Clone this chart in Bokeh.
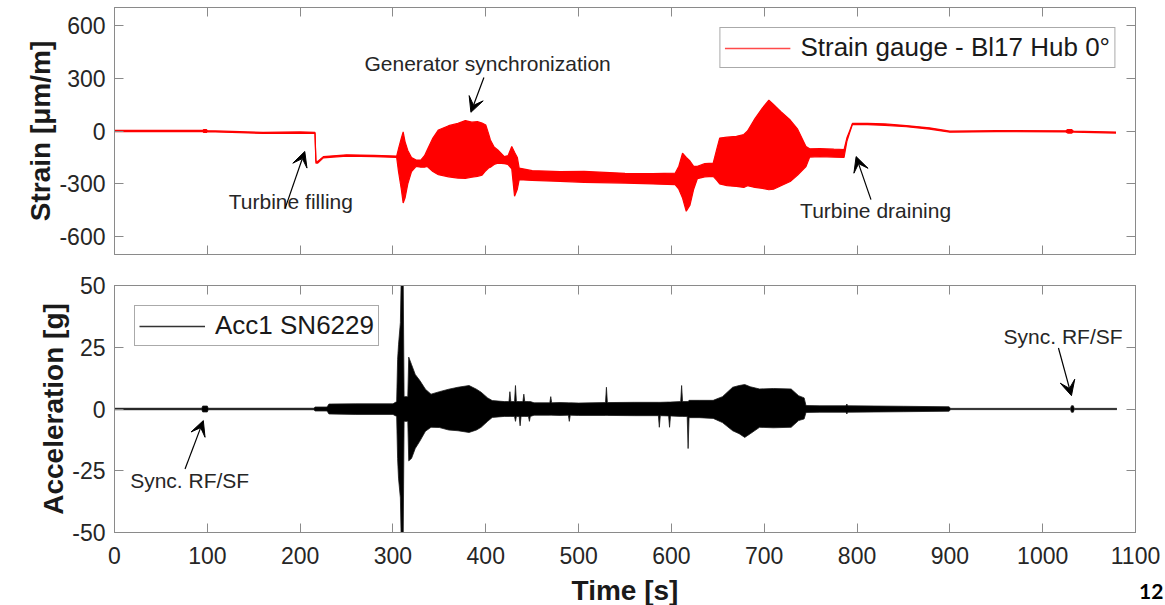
from bokeh.plotting import figure
from bokeh.layouts import column
from bokeh.models import (Range1d, LinearAxis, FixedTicker, Label, Arrow, VeeHead,
                          ColumnDataSource, Div)
from bokeh.embed import file_html
from bokeh.resources import INLINE

# ---------------- data (envelopes) ----------------
strain_t = [0, 60, 95, 96, 99, 100, 160, 200, 216, 217, 219, 225, 250, 280, 304, 306, 309, 311,
            313, 316, 320, 325, 330, 334, 337, 343, 349, 360, 370, 378, 385, 391, 396, 400, 403,
            405, 409, 413, 420, 424, 428, 431, 434, 436, 450, 480, 506, 550, 580, 604, 608, 612,
            616, 620, 624, 628, 636, 645, 649, 652, 660, 670, 678, 682, 690, 698, 705, 710, 718,
            728, 736, 745, 749, 760, 775, 786, 789, 792, 795, 811, 830, 853, 878, 900, 950, 1025,
            1027, 1031, 1033, 1079]
strain_hi = [3, 3, 3, 8, 8, 2, -8, -5, -7, -170, -172, -145, -135, -138, -142, -100, -40, -5,
             -60, -110, -150, -165, -165, -140, -107, -40, 6, 30, 43, 59, 50, 53, 45, 34, -15,
             -51, -91, -107, -145, -140, -88, -120, -150, -210, -225, -230, -229, -240, -242, -239,
             -200, -126, -150, -170, -200, -200, -185, -182, -100, -40, -35, -30, -20, 0, 70, 130,
             175, 150, 110, 62, 10, -88, -101, -100, -103, -105, -40, 0, 43, 43, 40, 31, 18, -1, 2,
             1, 8, 8, 0, -6]
strain_lo = [-3, -3, -3, -8, -8, -4, -14, -12, -13, -182, -182, -152, -142, -145, -150, -230,
             -330, -408, -380, -300, -230, -200, -205, -205, -201, -230, -248, -260, -267, -268,
             -262, -257, -250, -225, -210, -205, -190, -182, -185, -190, -215, -370, -330, -276,
             -280, -285, -291, -295, -300, -304, -330, -380, -455, -420, -330, -270, -260, -257,
             -280, -300, -310, -314, -320, -310, -320, -325, -333, -330, -310, -286, -250, -201,
             -148, -145, -148, -150, -60, -10, 37, 36, 32, 24, 11, -7, -4, -5, -12, -12, -6, -12]

acc_t = [0, 94, 95, 100, 101, 215, 216, 229, 231, 260, 300, 304, 305, 306, 308, 309, 311, 312,
         316, 317, 320, 324, 329, 335, 341, 350, 360, 370, 382, 390, 395, 402, 407, 420, 425, 426,
         427, 431, 432, 433, 436, 437, 438, 440, 441, 442, 446, 447, 448, 452, 469, 470, 471, 480,
         489, 490, 491, 500, 529, 530, 531, 560, 586, 587, 588, 597, 598, 599, 610, 611, 612, 617,
         618, 619, 630, 645, 655, 666, 673, 679, 685, 695, 710, 729, 737, 743, 745, 760, 788, 789,
         790, 850, 899, 901, 1030, 1031, 1033, 1034, 1080]
acc_hi = [0.3, 0.3, 1.2, 1.2, 0.3, 0.3, 0.8, 0.8, 2.0, 2.1, 2.1, 3, 20, 26, 35, 55, 55, 5,
          5, 21, 18, 14, 11.5, 8, 6, 7, 8, 8.8, 9.5, 8, 6.8, 4.5, 3.4, 3, 3, 7,
          3, 3, 9.5, 3, 3, 3, 3, 3, 6, 3, 3, 3, 3, 2.5, 2.5, 5, 2.5, 2.6,
          2.5, 2.5, 2.5, 2.4, 2.6, 8.8, 2.6, 2.7, 2.7, 2.7, 2.7, 2.8, 2.8, 2.8, 3, 9.5, 3, 3,
          3, 3.5, 3.5, 3.5, 5, 8.8, 9.5, 9.9, 9, 8.1, 8.3, 8.1, 5.4, 4.5, 1.4, 1.3, 1.3, 2,
          1.3, 1.1, 0.9, 0.25, 0.25, 1.3, 1.3, 0.25, 0.25]
acc_lo = [-0.3, -0.3, -1.2, -1.2, -0.3, -0.3, -0.8, -0.8, -2.0, -2.2, -2.2, -3, -20, -28, -36,
          -55, -55, -5, -5, -21, -20, -16, -13, -9, -7.4, -7.5, -8.5, -8.8, -9.5, -8.5, -7.4, -5,
          -3.4, -3, -3, -3, -3, -3, -5, -3, -3, -6.8, -3, -3, -3, -3, -3, -5, -3, -2.5, -2.5,
          -2.5, -2.5, -2.6, -2.5, -5, -2.5, -2.6, -2.6, -2.6, -2.6, -2.7, -2.7, -7.4, -2.7, -2.8,
          -7.4, -2.8, -3, -3, -3, -3, -16, -3.5, -3.5, -3.8, -5.5, -8.8, -10, -11.5, -10, -7.4,
          -7.6, -7.4, -4.7, -4, -1.4, -1.3, -1.3, -2, -1.3, -1.1, -0.9, -0.25, -0.25, -1.3, -1.3,
          -0.25, -0.25]

x_ticks = list(range(0, 1101, 100))
strain_ticks = [-600, -300, 0, 300, 600]
acc_ticks = [-50, -25, 0, 25, 50]

# annotations: (text, text_x, text_y, arrow_x_start, arrow_y_start, arrow_x_end, arrow_y_end)
strain_notes = [
    ("Turbine filling", 190, -400, 184, -436, 205, -116),
    ("Generator synchronization", 402, 380, 398, 303, 384, 106),
    ("Turbine draining", 820, -449, 815, -389, 799, -145),
]
acc_notes = [
    ("Sync. RF/SF", 81, -29, 76, -24.3, 95.7, -4.7),
    ("Sync. RF/SF", 1022, 29.3, 1017, 24.7, 1031, 5.4),
]
page_number = "12"

FONT = "Liberation Sans"
FRAME = "#8a8a8a"
TXT = "#262626"

x_range = Range1d(0, 1100)


def style_axis(ax, ticks, labels=True):
    ax.ticker = FixedTicker(ticks=ticks)
    ax.major_label_overrides = {v: str(v) for v in ticks}
    ax.major_tick_in = 9
    ax.major_tick_out = 0
    ax.minor_tick_line_color = None
    ax.axis_line_color = FRAME
    ax.major_tick_line_color = FRAME
    ax.major_label_text_font = FONT
    ax.major_label_text_color = TXT
    ax.major_label_text_font_size = "23px"
    ax.axis_label_text_font = FONT
    ax.axis_label_text_font_style = "bold"
    ax.axis_label_text_font_size = "28px"
    ax.axis_label_text_color = "#1a1a1a"
    if not labels:
        ax.major_label_text_font_size = "0px"
        ax.major_label_text_alpha = 0
        ax.major_label_standoff = 0


def make_fig(yr, border_top, border_bottom):
    p = figure(frame_width=1021, frame_height=247, x_range=x_range, y_range=yr,
               output_backend="svg", toolbar_location=None,
               min_border_left=114, min_border_right=30,
               min_border_top=border_top, min_border_bottom=border_bottom)
    p.xgrid.visible = False
    p.ygrid.visible = False
    p.outline_line_color = FRAME
    p.outline_line_width = 1
    p.background_fill_color = "white"
    p.border_fill_color = "white"
    return p


def add_notes(p, notes):
    for txt, tx, ty, x0, y0, x1, y1 in notes:
        p.add_layout(Label(x=tx, y=ty, text=txt, text_align="center", text_baseline="middle",
                           text_font=FONT, text_font_size="21px", text_color=TXT))
        p.add_layout(Arrow(x_start=x0, y_start=y0, x_end=x1, y_end=y1,
                           line_color="black", line_width=1.2,
                           end=VeeHead(size=15, fill_color="black", line_color="black")))


def style_legend(p, loc):
    lg = p.legend[0]
    lg.location = loc
    lg.margin = 20
    lg.padding = 4
    lg.spacing = 0
    lg.border_line_color = "#555555"
    lg.border_line_width = 1
    lg.background_fill_color = "white"
    lg.background_fill_alpha = 1
    lg.label_text_font = FONT
    lg.label_text_font_size = "26px"
    lg.label_text_color = "#1a1a1a"
    lg.glyph_width = 66
    lg.label_standoff = 10


# ---------------- top: strain ----------------
p1 = make_fig(Range1d(-700, 700), 7, 15)
src1 = ColumnDataSource(dict(t=strain_t, hi=strain_hi, lo=strain_lo))
p1.varea(x="t", y1="lo", y2="hi", source=src1, fill_color="#ff0000")
p1.line(x="t", y="lo", source=src1, line_color="#ff0000", line_width=1.2)
p1.line(x="t", y="hi", source=src1, line_color="#ff0000", line_width=1.2)
# one-point line: draws nothing in the plot, only gives the legend its sample
p1.line(x=strain_t[:1], y=strain_hi[:1], line_color="#ff4a4a", line_width=1.6,
        legend_label="Strain gauge - Bl17 Hub 0\u00b0")
style_axis(p1.xaxis[0], x_ticks, labels=False)
style_axis(p1.yaxis[0], strain_ticks)
p1.yaxis[0].axis_label = "Strain [\u03bcm/m]"
p1.yaxis[0].major_label_standoff = 9
p1.yaxis[0].axis_label_standoff = 0
ax_r1 = LinearAxis()
style_axis(ax_r1, strain_ticks, labels=False)
p1.add_layout(ax_r1, "right")
ax_t1 = LinearAxis()
style_axis(ax_t1, x_ticks, labels=False)
p1.add_layout(ax_t1, "above")
add_notes(p1, strain_notes)
style_legend(p1, "top_right")

# ---------------- bottom: acceleration ----------------
p2 = make_fig(Range1d(-50, 50), 16, 73)
src2 = ColumnDataSource(dict(t=acc_t, hi=acc_hi, lo=acc_lo))
p2.varea(x="t", y1="lo", y2="hi", source=src2, fill_color="black")
p2.line(x="t", y="lo", source=src2, line_color="#1a1a1a", line_width=0.8)
p2.line(x="t", y="hi", source=src2, line_color="#1a1a1a", line_width=0.8)
p2.line(x=acc_t[:1], y=acc_hi[:1], line_color="#333333", line_width=1.4,
        legend_label="Acc1 SN6229")
style_axis(p2.xaxis[0], x_ticks)
p2.xaxis[0].axis_label = "Time [s]"
p2.xaxis[0].major_label_standoff = 14
p2.xaxis[0].axis_label_standoff = 8
style_axis(p2.yaxis[0], acc_ticks)
p2.yaxis[0].axis_label = "Acceleration [g]"
p2.yaxis[0].major_label_standoff = 9
p2.yaxis[0].axis_label_standoff = 0
ax_r2 = LinearAxis()
style_axis(ax_r2, acc_ticks, labels=False)
p2.add_layout(ax_r2, "right")
ax_t2 = LinearAxis()
style_axis(ax_t2, x_ticks, labels=False)
p2.add_layout(ax_t2, "above")
add_notes(p2, acc_notes)
style_legend(p2, "top_left")

# page number, in the bottom-right corner of the page (taken out of the flow)
page_div = Div(text=page_number, width=30, height=24,
               styles={"position": "absolute", "left": "1134px", "top": "575px",
                       "font-family": "Lato, 'Open Sans', sans-serif", "font-weight": "bold",
                       "font-size": "21px", "color": "black", "line-height": "22px"})

layout = column(p1, p2, page_div, spacing=0)
open("out.html", "w").write(file_html(layout, INLINE))
